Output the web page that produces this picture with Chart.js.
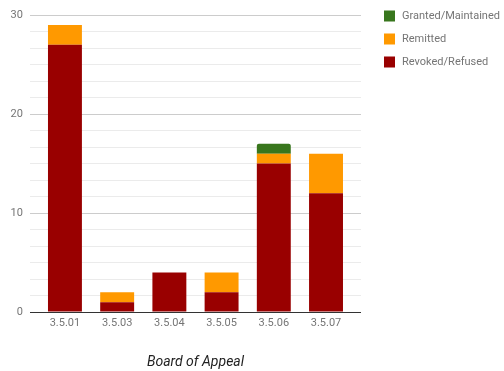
<!DOCTYPE html>
<html>
<head>
<meta charset="utf-8">
<script src="https://cdn.jsdelivr.net/npm/chart.js@4"></script>
<style>
html,body{margin:0;padding:0;background:#fff;}
#wrap{position:relative;width:504px;height:371px;}
</style>
</head>
<body>
<div id="wrap"><canvas id="c" width="504" height="371"></canvas></div>
<script>
const categories = ['3.5.01', '3.5.03', '3.5.04', '3.5.05', '3.5.06', '3.5.07'];
const revokedRefused = [27, 1, 4, 2, 15, 12];
const remitted = [2, 1, 0, 2, 1, 4];
const grantedMaintained = [0, 0, 0, 0, 1, 0];
const yTickLabels = [0, 10, 20, 30];
const xTitle = 'Board of Appeal';

const toPoints = arr => arr.map((v, i) => ({ x: i, y: v }));

const legendPlugin = {
  id: 'sideLegend',
  afterDraw(chart) {
    const ctx = chart.ctx;
    const items = chart.data.datasets.slice().reverse();
    ctx.save();
    ctx.font = '11px Roboto';
    ctx.textBaseline = 'middle';
    ctx.textAlign = 'left';
    items.forEach((ds, i) => {
      const cy = 16 + i * 23;
      ctx.fillStyle = ds.backgroundColor;
      ctx.fillRect(384, cy - 5.5, 11, 11);
      ctx.fillStyle = '#757575';
      ctx.fillText(ds.label, 402, cy);
    });
    ctx.restore();
  }
};

new Chart(document.getElementById('c'), {
  type: 'bar',
  data: {
    datasets: [
      { label: 'Revoked/Refused', data: toPoints(revokedRefused), backgroundColor: '#990000' },
      { label: 'Remitted', data: toPoints(remitted), backgroundColor: '#ff9900' },
      { label: 'Granted/Maintained', data: toPoints(grantedMaintained), backgroundColor: '#38761d',
        borderRadius: { topLeft: 2, topRight: 2 }, borderSkipped: 'bottom' }
    ]
  },
  options: {
    responsive: false,
    animation: false,
    devicePixelRatio: 1,
    layout: { padding: { left: 3.6, right: 143, top: 15, bottom: 0 } },
    datasets: { bar: { barPercentage: 0.65, categoryPercentage: 1 } },
    plugins: { legend: { display: false }, tooltip: { enabled: false } },
    scales: {
      x: {
        type: 'linear',
        offset: false,
        stacked: true,
        min: -0.67,
        max: 5.67,
        afterBuildTicks: axis => { axis.ticks = categories.map((c, i) => ({ value: i })); },
        grid: { display: false, drawTicks: false },
        border: { display: false },
        ticks: {
          autoSkip: false,
          maxRotation: 0,
          padding: 5,
          color: '#757575',
          font: { family: 'Roboto', size: 11 },
          callback: v => categories[v]
        },
        title: {
          display: true,
          text: xTitle,
          color: '#222222',
          font: { family: 'Roboto', size: 14, style: 'italic' },
          padding: { top: 18.9, bottom: 0 }
        }
      },
      y: {
        stacked: true,
        min: 0,
        max: 30,
        afterBuildTicks: axis => {
          const t = [];
          for (let i = 0; i <= 18; i++) t.push({ value: i * 30 / 18 });
          axis.ticks = t;
        },
        grid: {
          drawTicks: false,
          color: c => {
            const v = c.tick.value;
            if (Math.abs(v) < 1e-6) return '#333333';
            return yTickLabels.some(l => Math.abs(l - v) < 1e-6) ? '#cccccc' : '#ebebeb';
          }
        },
        border: { display: false },
        ticks: {
          autoSkip: false,
          padding: 7,
          color: '#757575',
          font: { family: 'Roboto', size: 11 },
          callback: v => {
            const m = yTickLabels.find(l => Math.abs(l - v) < 1e-6);
            return m === undefined ? '' : String(m);
          }
        }
      }
    }
  },
  plugins: [legendPlugin]
});
</script>
</body>
</html>
